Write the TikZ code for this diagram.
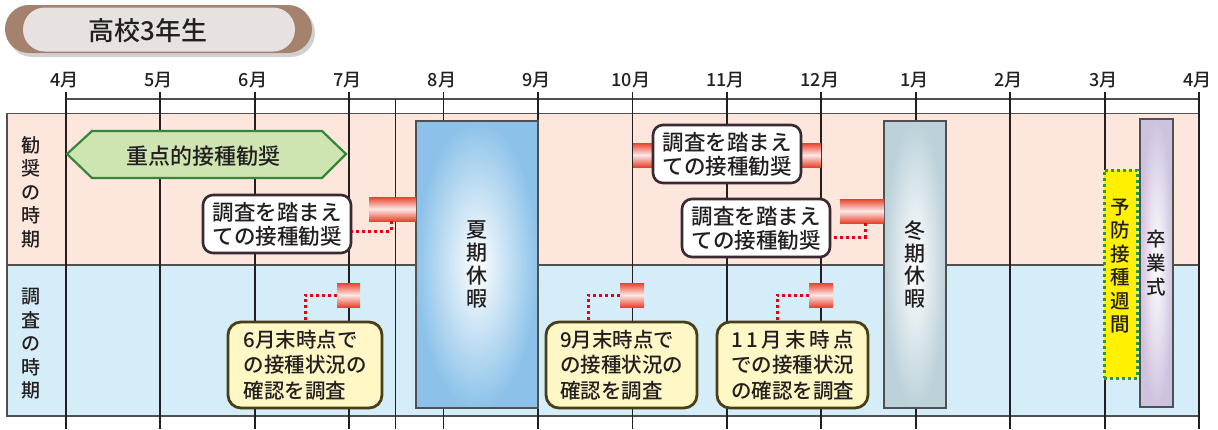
\documentclass[tikz,border=0pt]{standalone}
\usepackage{fontspec}
\setmainfont{Noto Sans CJK JP Medium}
\newcommand{\myfs}[2]{\fontsize{#1}{#2}\selectfont}
\usetikzlibrary{shadows}
\definecolor{ink}{HTML}{231F20}
\definecolor{pinkband}{HTML}{FDE6DC}
\definecolor{blueband}{HTML}{D4EDF9}
\definecolor{gridline}{HTML}{505050}
\definecolor{brownpill}{HTML}{A4826E}
\definecolor{pillfill}{HTML}{E7E1DF}
\definecolor{barred}{HTML}{E8432E}
\definecolor{dotred}{HTML}{E60012}
\definecolor{hexfill}{HTML}{CFE5B1}
\definecolor{hexline}{HTML}{35853A}
\definecolor{yelfill}{HTML}{FFF8C6}
\definecolor{yelline}{HTML}{4A3E16}
\definecolor{boxline}{HTML}{3A2832}
\definecolor{summerblue}{HTML}{8CC2E9}
\definecolor{wintergray}{HTML}{BCD1DA}
\definecolor{lavender}{HTML}{CEC3DF}
\definecolor{weekyellow}{HTML}{FFF100}
\definecolor{weekgreen}{HTML}{1E9A4A}
\begin{document}
\begin{tikzpicture}[x=1pt,y=-1pt,
  monthlbl/.style={font=\myfs{18}{18}, text=ink, inner sep=0pt},
  redbar/.style={draw=none, top color=barred, bottom color=barred, middle color=white!88!barred, minimum height=24pt, inner sep=0pt},
  recbox/.style={draw=boxline, fill=white, line width=2.6pt, rounded corners=10pt, minimum width=148pt, minimum height=58pt, align=center, inner sep=0pt, text=ink, font=\myfs{21.5}{24}},
  yelbox/.style={draw=yelline, fill=yelfill, line width=2.8pt, rounded corners=13pt, minimum height=86pt, align=left, inner sep=0pt, text=ink, font=\myfs{20.5}{25.5}},
  dotline/.style={draw=dotred, line width=3pt, dash pattern=on 3pt off 3pt},
  vacbox/.style={draw=gridline, line width=1.2pt, inner sep=0pt, align=center, text=ink},
  vtext/.style={align=center, inner sep=0pt, text=ink}
]
\useasboundingbox (0,0) rectangle (1218,429);

% title pill
\node[fill=brownpill, rounded corners=23.9pt, minimum width=307pt, minimum height=48pt, inner sep=0pt,
      drop shadow={shadow xshift=3pt, shadow yshift=-4pt, opacity=.18, fill=black}] (titleback) at (158.5,29) {};
\node[fill=pillfill, rounded corners=21.9pt, minimum width=272pt, minimum height=44pt, inner sep=0pt] (titlefront) at (159,29.5) {};
\node[text=ink, font=\myfs{26}{26}, inner sep=0pt] (title) at (148,31) {高校3年生};

% bands
\fill[pinkband] (7,113.5) rectangle (1199,265);
\fill[blueband] (7,265) rectangle (1199,416);
\draw[gridline, line width=1.2pt] (7,113.5) rectangle (1199,416);
\draw[gridline, line width=1.2pt] (7,265) -- (1199,265);

% axis
\draw[gridline, line width=1.5pt] (65.7,99) -- (1199.1,99);
\draw[ink, line width=1.1pt] (395.5,99) -- (395.5,429);
\foreach \lab [count=\i from 0] in {4月,5月,6月,7月,8月,9月,10月,11月,12月,1月,2月,3月,4月}{
  \pgfmathsetmacro{\xx}{65.7+94.45*\i}
  \node[monthlbl] (m\i) at (\xx-1.5,80) {\lab};
  \draw[ink, line width=1.8pt] (\xx,92) -- (\xx,429);
}

% left labels
\node[vtext, font=\myfs{19}{23.5}] (lblA) at (31,192) {勧\\奨\\の\\時\\期};
\node[vtext, font=\myfs{19}{23.5}] (lblB) at (31,344) {調\\査\\の\\時\\期};

% green hexagon
\filldraw[fill=hexfill, draw=hexline, line width=2.2pt] (67,154)--(92,131)--(322,131)--(346,154)--(322,178)--(92,178)--cycle;
\node[text=ink, font=\myfs{22}{22}, inner sep=0pt] (hextext) at (203,156) {重点的接種勧奨};

% vacation / event boxes
\node[vacbox, inner color=white, outer color=summerblue, minimum width=122pt, minimum height=287pt, font=\myfs{21}{22.8}] (summer) at (477,264.5) {夏\\期\\休\\暇};
\node[vacbox, inner color=white, outer color=wintergray, minimum width=62pt, minimum height=287pt, font=\myfs{21}{22.8}] (winter) at (915,264.5) {冬\\期\\休\\暇};
\node[vacbox, inner color=white, outer color=lavender, minimum width=33pt, minimum height=288pt, font=\myfs{19.5}{24}] (grad) at (1156.5,263) {卒\\業\\式};
\node[fill=weekyellow, draw=weekgreen, line width=3pt, dash pattern=on 3pt off 3pt, minimum width=33pt, minimum height=208pt, inner sep=0pt] (week) at (1120.5,274) {};
\node[vtext, font=\myfs{19.5}{23.5}] (weektext) at (1120.5,266) {予\\防\\接\\種\\週\\間};

% recommendation boxes with bars
\node[redbar, minimum width=47pt] (bar1) at (392.5,209) {};
\node[recbox] (box1) at (277,224) {調査を踏まえ\\ての接種勧奨};
\node[redbar, minimum width=188pt] (bar2) at (727,155) {};
\node[recbox] (box2) at (727,154) {調査を踏まえ\\ての接種勧奨};
\node[redbar, minimum width=44pt] (bar3) at (862,211) {};
\node[recbox] (box3) at (756,228) {調査を踏まえ\\ての接種勧奨};

% survey squares
\node[redbar, minimum width=23pt] (sq1) at (348.5,295) {};
\node[redbar, minimum width=24pt] (sq2) at (632,295) {};
\node[redbar, minimum width=24pt] (sq3) at (821,295) {};

% survey boxes
\node[yelbox, minimum width=154pt] (yb1) at (305,365) {6月末時点で\\の接種状況の\\確認を調査};
\node[yelbox, minimum width=151pt] (yb2) at (621.5,365) {9月末時点で\\の接種状況の\\確認を調査};
\node[yelbox, minimum width=151pt] (yb3) at (792.5,365) {\makebox[123pt][s]{1\hfill 1\hfill 月\hfill 末\hfill 時\hfill 点}\\での接種状況\\の確認を調査};

% dotted connectors
\draw[dotline] (sq1.west) -| (yb1.north);
\draw[dotline] (sq2.west) -| ([xshift=-33.5pt]yb2.north);
\draw[dotline] (sq3.west) -| ([xshift=-15.5pt]yb3.north);
\draw[dotline] ([xshift=-1.5pt]bar1.south) |- ([yshift=-7pt]box1.east);
\draw[dotline] ([xshift=3pt]bar3.south) |- ([yshift=-9pt]box3.east);
\end{tikzpicture}
\end{document}
